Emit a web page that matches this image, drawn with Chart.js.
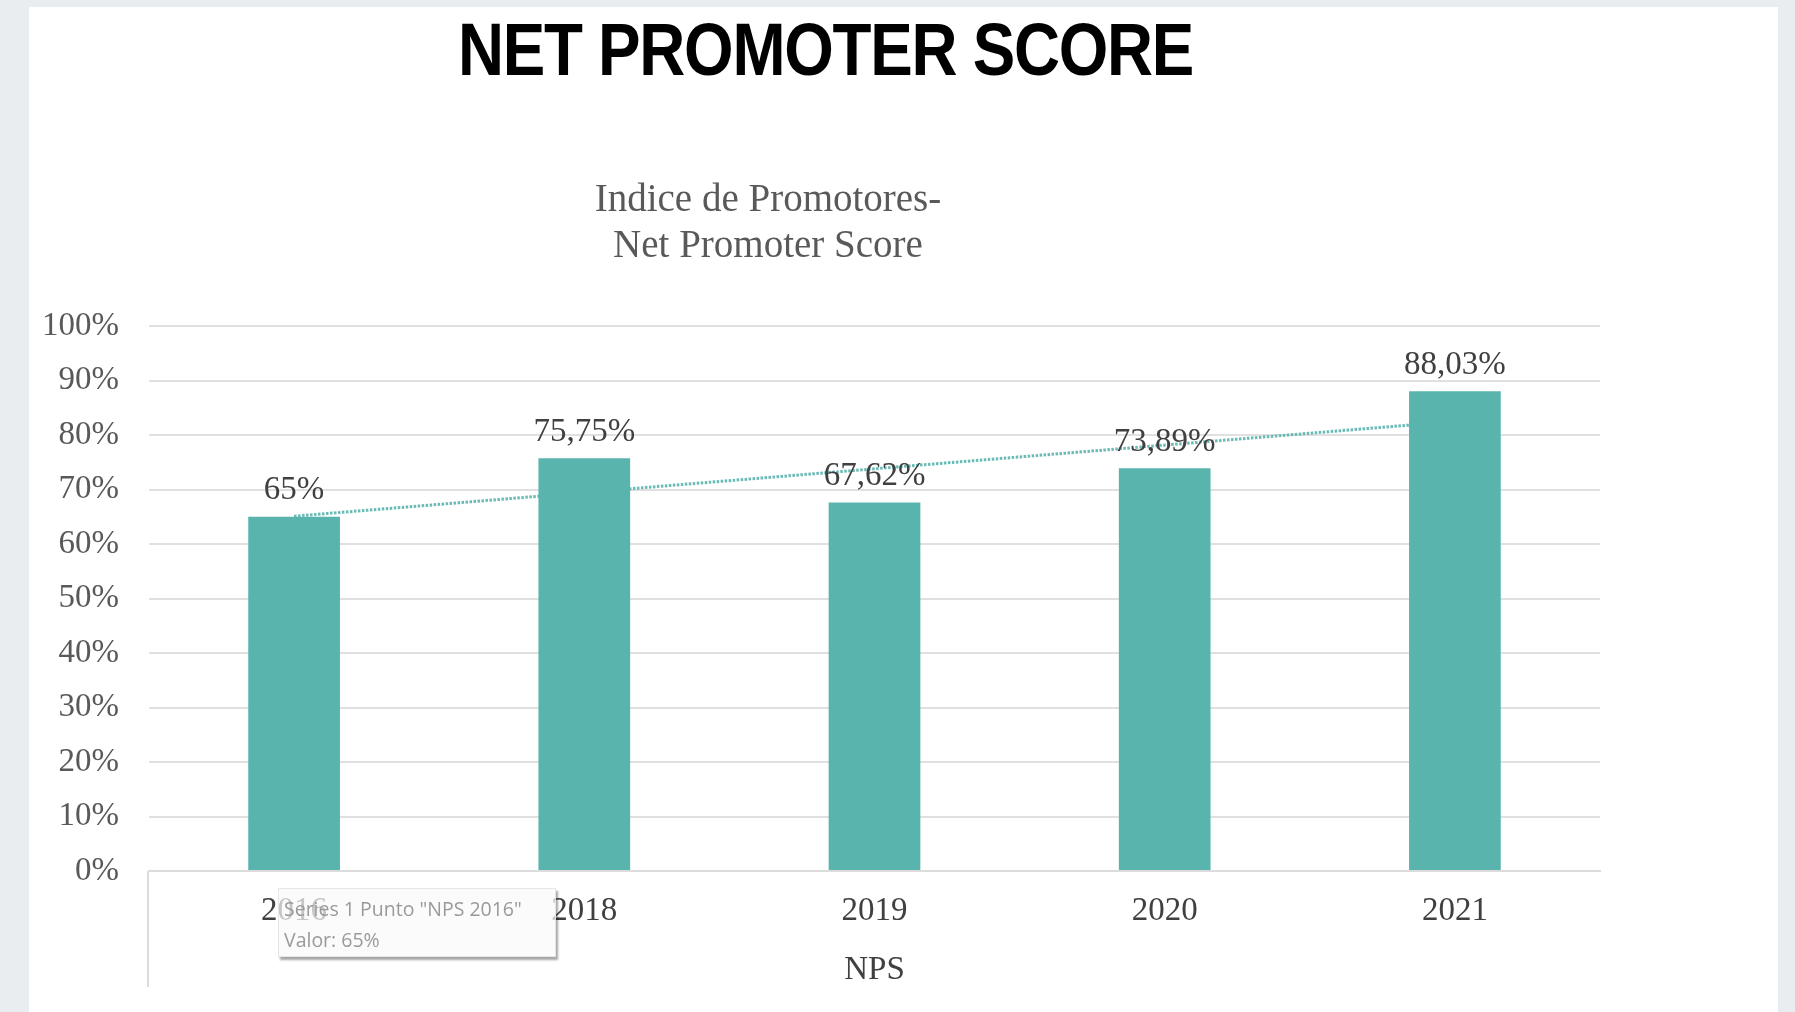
<!DOCTYPE html>
<html>
<head>
<meta charset="utf-8">
<script src="https://cdn.jsdelivr.net/npm/chart.js@4.4.1/dist/chart.umd.min.js"></script>
<style>
  html, body { margin: 0; padding: 0; }
  body { width: 1795px; height: 1012px; background: #e9edf0; position: relative; overflow: hidden; }
  #panel { position: absolute; left: 29px; top: 7px; width: 1749px; height: 1005px; background: #ffffff; }
  #chart { position: absolute; left: 0; top: 0; }
  #mainTitle { position: absolute; top: 12px; left: 0; white-space: nowrap; font-family: "Liberation Sans", Arial, sans-serif; font-weight: bold; font-size: 75px; color: #000; transform-origin: 0 0; letter-spacing: -1.5px; line-height: 1; }
  #subTitle { position: absolute; top: 175px; left: 568px; width: 400px; text-align: center; font-family: "Liberation Serif", "Times New Roman", serif; font-size: 39px; line-height: 46px; color: #595959; }
  #frameV { position: absolute; left: 147px; top: 871px; width: 2px; height: 116px; background: #dcdcdc; }
  #tip { position: absolute; left: 278px; top: 888px; width: 278px; height: 69px; background: rgba(250,250,250,0.72); border: 1px solid #e6e6e6; box-shadow: 2px 3px 2px rgba(0,0,0,0.35); box-sizing: border-box; font-family: "Open Sans", "Noto Sans", sans-serif; font-size: 19.5px; color: #9a9a9a; padding-left: 5px; line-height: 31px; padding-top: 4px; }
</style>
</head>
<body>
<div id="panel"></div>
<canvas id="chart" width="1795" height="1012"></canvas>
<div id="frameV"></div>
<div id="mainTitle">NET PROMOTER SCORE</div>
<div id="subTitle">Indice de Promotores-<br>Net Promoter Score</div>
<div id="tip">Series 1 Punto "NPS 2016"<br>Valor: 65%</div>
<script>
// ---- data ----
const categories = ['2016', '2018', '2019', '2020', '2021'];
const npsValues = [65, 75.75, 67.62, 73.89, 88.03];
const npsLabels = ['65%', '75,75%', '67,62%', '73,89%', '88,03%'];
const trendValues = [65.1, null, null, null, 82.5];
const yTicks = [0, 10, 20, 30, 40, 50, 60, 70, 80, 90, 100];
const xAxisTitle = 'NPS';

// main title width fit
(function () {
  const t = document.getElementById('mainTitle');
  const w = t.getBoundingClientRect().width;
  const target = 735;
  const s = target / w;
  t.style.transform = 'scaleX(' + s + ')';
  t.style.left = (458) + 'px';
})();

const labelPlugin = {
  id: 'barLabels',
  afterDatasetsDraw(chart) {
    const meta = chart.getDatasetMeta(0);
    const ctx = chart.ctx;
    ctx.save();
    ctx.font = '33px "Liberation Serif", "Times New Roman", serif';
    ctx.fillStyle = '#404040';
    ctx.textAlign = 'center';
    ctx.textBaseline = 'middle';
    meta.data.forEach((bar, i) => {
      ctx.fillText(npsLabels[i], bar.x, bar.y - 26);
    });
    ctx.restore();
  }
};

new Chart(document.getElementById('chart'), {
  data: {
    labels: categories,
    datasets: [
      {
        type: 'bar',
        label: 'Series 1',
        data: npsValues,
        backgroundColor: '#5ab4ae',
        barPercentage: 0.316,
        categoryPercentage: 1.0,
        order: 1
      },
      {
        type: 'line',
        label: 'Tendencia',
        data: trendValues,
        spanGaps: true,
        borderColor: 'rgba(90,180,174,0.9)',
        borderWidth: 3,
        borderDash: [2.5, 1.5],
        pointRadius: 0,
        fill: false,
        order: 2
      }
    ]
  },
  options: {
    responsive: false,
    animation: false,
    layout: { padding: { left: 0, right: 195, top: 326, bottom: 0 } },
    plugins: {
      legend: { display: false },
      tooltip: { enabled: false },
      title: { display: false }
    },
    scales: {
      x: {
        grid: { display: false, drawTicks: false },
        border: { display: true, color: '#dcdcdc', width: 2 },
        ticks: { color: '#404040', padding: 21, font: { family: '"Liberation Serif", "Times New Roman", serif', size: 33 } },
        title: { display: true, text: xAxisTitle, color: '#404040', padding: { top: 0, bottom: 22 }, font: { family: '"Liberation Serif", "Times New Roman", serif', size: 33 } },
        afterFit(scale) { scale.height = 141; }
      },
      y: {
        min: 0,
        max: 100,
        afterBuildTicks(scale) { scale.ticks = yTicks.map(v => ({ value: v })); },
        grid: { color: '#e0e0e0', lineWidth: 2, drawTicks: false },
        border: { display: false },
        ticks: { color: '#595959', padding: 30, callback: v => v + '%', font: { family: '"Liberation Serif", "Times New Roman", serif', size: 33 } },
        afterFit(scale) { scale.width = 149; }
      }
    }
  },
  plugins: [labelPlugin]
});
</script>
</body>
</html>
